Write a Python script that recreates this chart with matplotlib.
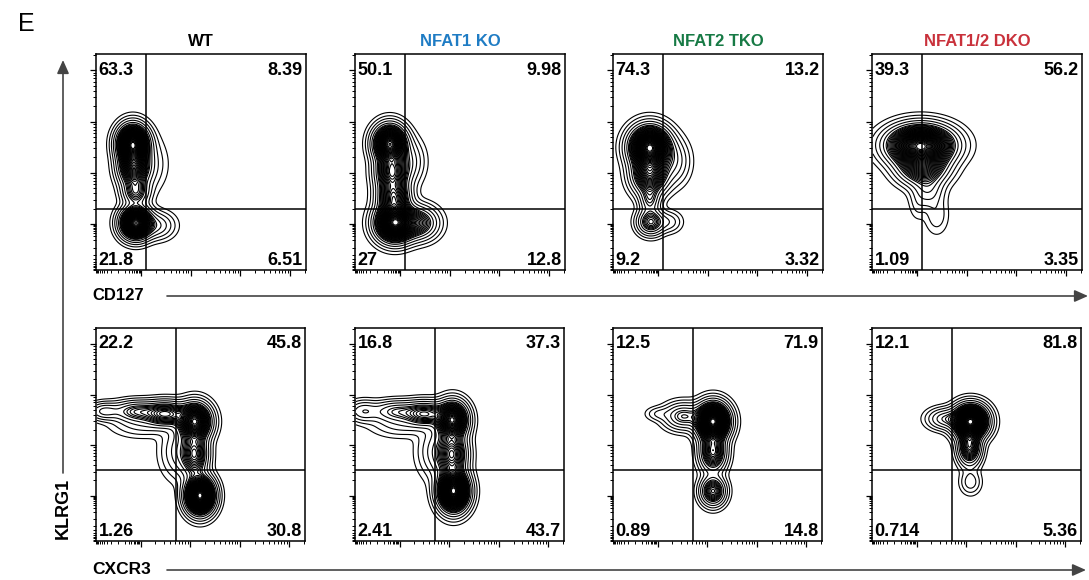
import numpy as np
import matplotlib
matplotlib.use("Agg")
import matplotlib.pyplot as plt
from matplotlib.patches import FancyArrowPatch

plt.rcParams['font.family'] = ['Liberation Sans', 'DejaVu Sans']

# ............................................................................ #
# data (axis units: decades on a 0..4.2 biexp scale)

groups       = ["WT", "NFAT1 KO", "NFAT2 TKO", "NFAT1/2 DKO"]
group_colors = ["#000000", "#1f7cc4", "#177a45", "#c9313b"]

# quadrant percentages: UL, UR, LL, LR
cd127_quads = [[63.3, 8.39, 21.8, 6.51],
               [50.1, 9.98, 27,   12.8],
               [74.3, 13.2, 9.2,  3.32],
               [39.3, 56.2, 1.09, 3.35]]
cxcr3_quads = [[22.2, 45.8, 1.26, 30.8],
               [16.8, 37.3, 2.41, 43.7],
               [12.5, 71.9, 0.89, 14.8],
               [12.1, 81.8, 0.714, 5.36]]

# gate positions (x, y)
cd127_gate = (0.98, 1.18)
cxcr3_gate = (1.59, 1.38)

# populations: (x, y, sd x, sd y, relative height)
cd127_wt = [(0.72, 2.45, 0.17, 0.20, 1.00),
            (0.74, 2.00, 0.17, 0.22, 0.55),
            (0.78, 1.50, 0.15, 0.15, 0.25),
            (0.78, 0.90, 0.17, 0.17, 0.95),
            (1.20, 0.85, 0.20, 0.15, 0.12),
            (1.00, 2.05, 0.22, 0.30, 0.06)]
cd127_n1 = [(0.68, 2.45, 0.18, 0.20, 0.85),
            (0.72, 1.90, 0.18, 0.22, 0.50),
            (0.76, 1.40, 0.18, 0.20, 0.45),
            (0.78, 0.90, 0.21, 0.20, 1.00),
            (1.25, 0.90, 0.22, 0.18, 0.30),
            (1.05, 2.10, 0.18, 0.25, 0.10)]
cd127_n2 = [(0.72, 2.38, 0.22, 0.22, 1.00),
            (0.72, 1.85, 0.20, 0.22, 0.50),
            (0.72, 1.35, 0.12, 0.16, 0.16),
            (0.74, 0.92, 0.15, 0.14, 0.28),
            (1.10, 0.92, 0.15, 0.12, 0.06),
            (1.20, 2.10, 0.18, 0.25, 0.10)]
cd127_dko = [(0.96, 2.42, 0.36, 0.21, 1.00),
             (1.00, 2.00, 0.28, 0.20, 0.40),
             (1.10, 1.55, 0.18, 0.20, 0.10),
             (1.28, 1.05, 0.14, 0.22, 0.035),
             (0.90, 1.25, 0.10, 0.18, 0.02)]

cxcr3_wt = [(2.08, 0.88, 0.16, 0.20, 1.00),
            (1.98, 2.35, 0.18, 0.20, 0.70),
            (1.98, 1.70, 0.15, 0.25, 0.35),
            (1.40, 2.50, 0.25, 0.14, 0.35),
            (0.80, 2.55, 0.28, 0.12, 0.20),
            (0.15, 2.55, 0.18, 0.10, 0.12),
            (0.90, 2.30, 0.35, 0.15, 0.05),
            (1.70, 1.75, 0.22, 0.30, 0.10)]
cxcr3_n1 = [(1.97, 0.97, 0.17, 0.22, 1.00),
            (1.95, 2.38, 0.17, 0.20, 0.70),
            (1.95, 1.70, 0.17, 0.25, 0.40),
            (1.40, 2.50, 0.25, 0.14, 0.30),
            (0.80, 2.55, 0.28, 0.12, 0.16),
            (0.15, 2.55, 0.18, 0.12, 0.10),
            (0.90, 2.30, 0.35, 0.15, 0.05),
            (1.65, 1.75, 0.22, 0.30, 0.10)]
cxcr3_n2 = [(2.00, 2.35, 0.18, 0.20, 1.00),
            (2.00, 1.75, 0.15, 0.22, 0.40),
            (2.00, 0.97, 0.14, 0.16, 0.35),
            (1.40, 2.45, 0.22, 0.15, 0.20),
            (0.90, 2.50, 0.15, 0.08, 0.04)]
cxcr3_dko = [(1.97, 2.35, 0.19, 0.18, 1.00),
             (1.95, 1.85, 0.13, 0.20, 0.40),
             (1.97, 1.15, 0.12, 0.14, 0.06),
             (1.45, 2.40, 0.20, 0.12, 0.15)]

# ............................................................................ #

W, H = 1089, 580
LIM = 4.2
fig = plt.figure(figsize=(W / 100, H / 100), dpi=100)

def px_axes(left, top, w, h):
    return fig.add_axes([left / W, 1 - (top + h) / H, w / W, h / H])

def fx(x): return x / W
def fy(y): return 1 - y / H

grid = np.linspace(0, LIM, 360)
GX, GY = np.meshgrid(grid, grid)

levels = np.concatenate([[0.008, 0.02, 0.04, 0.07, 0.11], np.linspace(0.15, 0.97, 36)])

major = [0.88, 1.88, 2.88, 3.88]
minor = []
for m in major[:3]:
    minor += [m + np.log10(j) for j in range(2, 10)]
minor += [3.88 + np.log10(2)]
minor += [0.42 + 0.46 * np.log10(j) for j in range(1, 10)]
minor += [0.42 - 0.46 * np.log10(j) for j in range(2, 10)]

def draw_panel(ax, pops, gate, quads):
    Z = np.zeros_like(GX)
    for cx, cy, sx, sy, w in pops:
        Z += w * np.exp(-0.5 * (((GX - cx) / sx) ** 2 + ((GY - cy) / sy) ** 2))
    ax.contour(GX, GY, Z, levels=levels * Z.max(), colors="black", linewidths=0.8)
    ax.axvline(gate[0], color="black", lw=1.1)
    ax.axhline(gate[1], color="black", lw=1.1)
    ax.set_xlim(0, LIM)
    ax.set_ylim(0, LIM)
    for s in ax.spines.values():
        s.set_linewidth(1.1)
    ax.set_xticks(major)
    ax.set_yticks(major)
    ax.set_xticks(minor, minor=True)
    ax.set_yticks(minor, minor=True)
    ax.tick_params(which="major", direction="out", length=4, width=0.9,
                   labelbottom=False, labelleft=False)
    ax.tick_params(which="minor", direction="out", length=2.5, width=0.7)
    kw = dict(transform=ax.transAxes, fontsize=13, fontweight="bold", va="center")
    ax.text(0.012, 0.925, str(quads[0]), ha="left", **kw)
    ax.text(0.985, 0.925, str(quads[1]), ha="right", **kw)
    ax.text(0.012, 0.045, str(quads[2]), ha="left", **kw)
    ax.text(0.985, 0.045, str(quads[3]), ha="right", **kw)

lefts = [96, 355, 613, 872]
top_pops = [cd127_wt, cd127_n1, cd127_n2, cd127_dko]
bot_pops = [cxcr3_wt, cxcr3_n1, cxcr3_n2, cxcr3_dko]

for i, left in enumerate(lefts):
    ax = px_axes(left, 54, 210, 216)
    draw_panel(ax, top_pops[i], cd127_gate, cd127_quads[i])
    ax.set_title(groups[i], color=group_colors[i], fontsize=12,
                 fontweight="bold", pad=6)
    ax = px_axes(left, 328, 209, 213)
    draw_panel(ax, bot_pops[i], cxcr3_gate, cxcr3_quads[i])

# panel letter, axis names and arrows
fig.text(fx(26), fy(24), "E", fontsize=18, ha="center", va="center")
fig.text(fx(92), fy(296), "CD127", fontsize=12, fontweight="bold", ha="left", va="center")
fig.text(fx(92), fy(569), "CXCR3", fontsize=12.5, fontweight="bold", ha="left", va="center")
fig.text(fx(63), fy(508), "KLRG1", fontsize=13, fontweight="bold", rotation=90,
         ha="center", va="center")

arrow = dict(arrowstyle="-|>,head_length=0.9,head_width=0.4", color="#444444",
             lw=1.2, mutation_scale=9, shrinkA=0, shrinkB=0,
             transform=fig.transFigure)
fig.add_artist(FancyArrowPatch((fx(167), fy(296)), (fx(1088), fy(296)), **arrow))
fig.add_artist(FancyArrowPatch((fx(167), fy(570)), (fx(1086), fy(570)), **arrow))
fig.add_artist(FancyArrowPatch((fx(63), fy(473)), (fx(63), fy(60)), **arrow))

fig.savefig("out.png", dpi=100)
